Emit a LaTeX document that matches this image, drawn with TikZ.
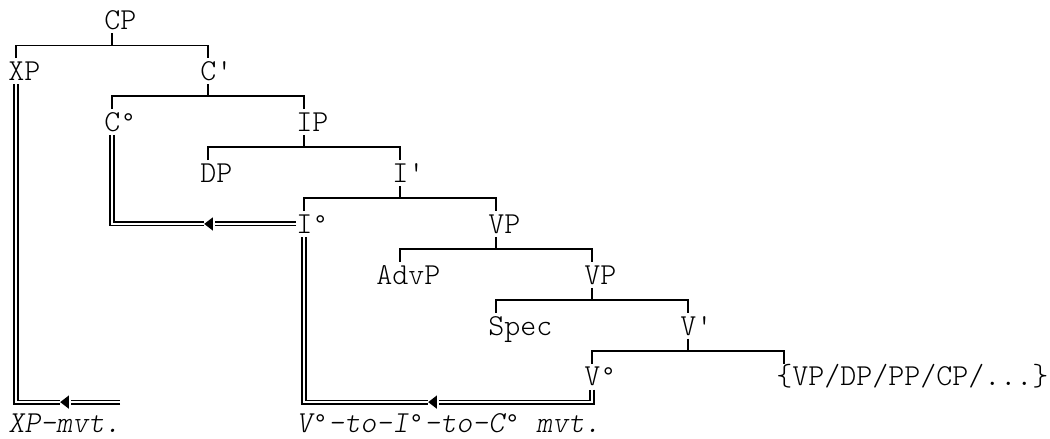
\documentclass[tikz,border=0pt]{standalone}
\usepackage{fontspec}
\newfontfamily\treefont{lmmonolt10-regular}[Extension=.otf, ItalicFont=lmmonolt10-oblique]
\newfontfamily\ringfont{Liberation Mono}
\newcommand\lvl{{\ringfont\fontsize{20}{24}\selectfont °}}
\usetikzlibrary{shapes.geometric, positioning}

% one column = 12pt, one row = 19.09pt (rows run downwards)
\tikzset{
    cat/.style={font=\treefont\fontsize{22.86}{26}\selectfont, inner sep=0pt,
        minimum height=19.09pt, text height=16pt, text depth=2pt, anchor=west},
    gloss/.style={cat, font=\treefont\itshape\fontsize{22.86}{26}\selectfont,
        minimum height=0pt, text height=7pt, text depth=0pt},
    branch/.style={line width=1.4pt},
    mvt/.style={double, double distance=2pt, line width=0.9pt},
    mvthead/.style={isosceles triangle, isosceles triangle stretches,
        shape border rotate=180, fill=black, inner sep=0pt,
        minimum width=10pt, minimum height=6.5pt}
}

% \branch[extra shift of left stem]{mother}{left daughter}{right daughter}
\newcommand\branch[4][0pt]{%
    \draw[branch] ([xshift=6pt]#2.south west) -- ++(0,0.5);
    \draw[branch] ([xshift=6pt+#1]#3.north west) -- ++(0,-0.5) -| ([xshift=6pt]#4.north west);
}

\begin{document}
\begin{tikzpicture}[x=12pt, y=-19.09pt]
    \useasboundingbox (-1,-0.798) rectangle (64.625,16.412);

    % categories
    \node[cat] (CP) at (5.5,0) {CP};
    \node[cat] (XP) at (-0.5,2) {XP};
    \node[cat] (C1) at (11.5,2) {C'};
    \node[cat] (C0) at (5.5,4) {C\lvl};
    \node[cat] (IP) at (17.5,4) {IP};
    \node[cat] (DP) at (11.5,6) {DP};
    \node[cat] (I1) at (23.5,6) {I'};
    \node[cat] (I0) at (17.5,8) {I\lvl};
    \node[cat] (VP) at (29.5,8) {VP};
    \node[cat] (AdvP) at (22.5,10) {AdvP};
    \node[cat] (VPlow) at (35.5,10) {VP};
    \node[cat] (Spec) at (29.5,12) {Spec};
    \node[cat] (V1) at (41.5,12) {V'};
    \node[cat] (V0) at (35.5,14) {V\lvl};
    \node[cat] (Compl) at (47.5,14) {\{VP/DP/PP/CP/...\}};

    \node[gloss] (xpmvt) at (-0.5,16) {XP-mvt.};
    \node[gloss] (vmvt) at (17.5,16) {V\lvl-to-I\lvl-to-C\lvl{} mvt.};

    % tree
    \branch{CP}{XP}{C1}
    \branch{C1}{C0}{IP}
    \branch{IP}{DP}{I1}
    \branch{I1}{I0}{VP}
    \branch[12pt]{VP}{AdvP}{VPlow}
    \branch{VPlow}{Spec}{V1}
    \branch{V1}{V0}{Compl}

    % XP movement
    \node[mvthead] (xphead) at (3.1,15) {};
    \coordinate (xptrace) at (6.5,15);
    \draw[mvt] (xptrace) -- ([xshift=1.5pt]xphead.east);
    \draw[mvt] (xphead.west) -| ([xshift=6pt]XP.south west);

    % head movement
    \node[mvthead] (vhead) at (26.1,15) {};
    \draw[mvt] ([xshift=6pt]V0.south west) |- ([xshift=1.5pt]vhead.east);
    \draw[mvt] (vhead.west) -| ([xshift=6pt]I0.south west);

    \node[mvthead] (ihead) at (12.1,8) {};
    \draw[mvt] (I0.west) -- ([xshift=1.5pt]ihead.east);
    \draw[mvt] (ihead.west) -| ([xshift=6pt]C0.south west);

\end{tikzpicture}
\end{document}
